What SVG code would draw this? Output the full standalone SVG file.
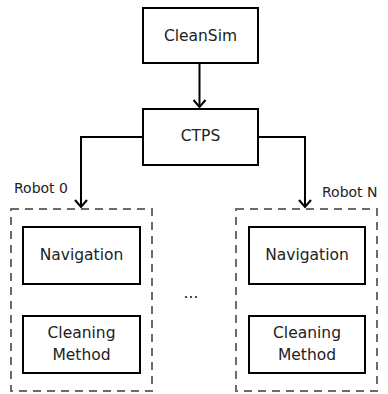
<svg xmlns="http://www.w3.org/2000/svg" width="388" height="394" viewBox="0 0 388 394">
<style>
.box{fill:#fff;stroke:#000;stroke-width:2}
.grp{fill:none;stroke:#6b6b6b;stroke-width:2;stroke-dasharray:8 6}
.t{font-family:"DejaVu Sans",sans-serif;font-size:15.5px;fill:#222;text-anchor:middle}
.lbl{font-family:"DejaVu Sans",sans-serif;font-size:14px;fill:#222}
.c{fill:none;stroke:#000;stroke-width:2}
</style>
<defs>
<marker id="ah" viewBox="0 0 14 14" refX="12" refY="7" markerWidth="14" markerHeight="14" markerUnits="userSpaceOnUse" orient="auto">
<path d="M5,1 L12,7 L5,13" fill="none" stroke="#000" stroke-width="2"/>
</marker>
</defs>
<rect width="388" height="394" fill="#fff"/>
<g id="robot0">
<rect class="grp" x="11" y="209" width="141" height="182"/>
</g>
<g id="robotN">
<rect class="grp" x="236" y="209" width="141" height="182"/>
</g>
<g id="connectors">
<path class="c" d="M199.5,63 V107" marker-end="url(#ah)"/>
<path class="c" d="M143,137 H81 V207" marker-end="url(#ah)"/>
<path class="c" d="M258,137 H305 V207" marker-end="url(#ah)"/>
</g>
<g id="cleansim">
<rect class="box" x="143" y="8" width="115" height="55"/>
<text class="t" x="200.5" y="41">CleanSim</text>
</g>
<g id="ctps">
<rect class="box" x="143" y="109" width="115" height="56"/>
<text class="t" x="200.5" y="141">CTPS</text>
</g>
<g id="label0"><text class="lbl" x="14" y="193">Robot 0</text></g>
<g id="labelN"><text class="lbl" x="322" y="197">Robot N</text></g>
<g id="nav0">
<rect class="box" x="23" y="227" width="117" height="57"/>
<text class="t" x="81.5" y="260">Navigation</text>
</g>
<g id="clean0">
<rect class="box" x="23" y="316" width="117" height="57"/>
<text class="t" x="81.5" y="338">Cleaning</text>
<text class="t" x="81.5" y="360">Method</text>
</g>
<g id="navN">
<rect class="box" x="249" y="227" width="116" height="57"/>
<text class="t" x="307" y="260">Navigation</text>
</g>
<g id="cleanN">
<rect class="box" x="249" y="316" width="116" height="57"/>
<text class="t" x="307" y="338">Cleaning</text>
<text class="t" x="307" y="360">Method</text>
</g>
<g id="ellipsis"><text class="t" x="191" y="298">...</text></g>
</svg>
